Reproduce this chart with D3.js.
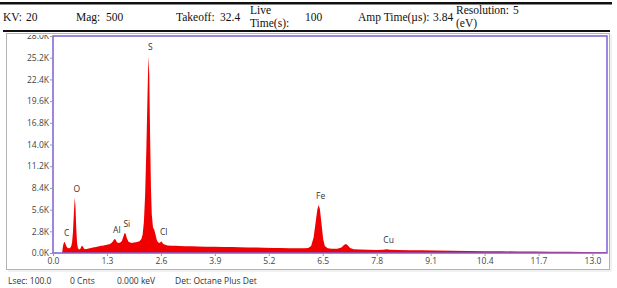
<!DOCTYPE html>
<html>
<head>
<meta charset="utf-8">
<title>EDS spectrum</title>
<script src="https://cdn.jsdelivr.net/npm/d3@7"></script>
<style>
  body { margin: 0; background: #fff; }
  svg { display: block; }
</style>
</head>
<body>
<svg id="chart" width="617" height="288"></svg>
<script>
// header fields (label, value) as printed above the plot
const headerLabels = ["KV:", "Mag:", "Takeoff:", "Live|Time(s):", "Amp Time(\u00b5s):", "Resolution:|(eV)"];
const headerValues = ["20", "500", "32.4", "100", "3.84", "5"];

// footer status line
const footerItems = ["Lsec: 100.0", "0 Cnts", "0.000 keV", "Det: Octane Plus Det"];

// axis ticks
const xTicks = [0.0, 1.3, 2.6, 3.9, 5.2, 6.5, 7.8, 9.1, 10.4, 11.7, 13.0];
const yTicks = [0, 2800, 5600, 8400, 11200, 14000, 16800, 19600, 22400, 25200, 28000];

// spectrum: energy (keV) and counts
const energy = [0.22, 0.24, 0.26, 0.28, 0.30, 0.32, 0.34, 0.36, 0.38, 0.40, 0.42, 0.44, 0.46, 0.48, 0.50, 0.52, 0.525, 0.54, 0.56, 0.58,
  0.60, 0.62, 0.64, 0.66, 0.68, 0.70, 0.72, 0.74, 0.77, 0.80, 0.84, 0.88, 0.92, 0.96, 1.00, 1.04, 1.08, 1.12, 1.16, 1.20,
  1.24, 1.28, 1.32, 1.36, 1.40, 1.44, 1.47, 1.49, 1.51, 1.54, 1.58, 1.62, 1.66, 1.70, 1.73, 1.75, 1.78, 1.82, 1.86, 1.90,
  1.95, 2.00, 2.05, 2.09, 2.13, 2.16, 2.19, 2.22, 2.25, 2.28, 2.30, 2.32, 2.34, 2.36, 2.38, 2.41, 2.44, 2.47, 2.50, 2.53,
  2.57, 2.60, 2.62, 2.65, 2.70, 2.76, 2.85, 2.95, 3.05, 3.20, 3.35, 3.50, 3.70, 3.90, 4.10, 4.30, 4.50, 4.70, 4.90, 5.10,
  5.30, 5.50, 5.70, 5.90, 6.05, 6.15, 6.22, 6.28, 6.33, 6.37, 6.40, 6.43, 6.47, 6.51, 6.55, 6.62, 6.72, 6.85, 6.95, 7.02,
  7.06, 7.10, 7.16, 7.25, 7.40, 7.60, 7.80, 7.95, 8.04, 8.12, 8.30, 8.60, 8.90, 9.20, 9.60, 10.0, 10.4, 10.8, 11.2, 11.6,
  12.0, 12.4, 12.8, 13.2, 13.35];
const counts = [0, 900, 1300, 1450, 1200, 900, 700, 650, 600, 620, 700, 900, 1400, 2600, 4800, 6800, 7100, 6200, 3200, 1300,
  650, 480, 450, 550, 800, 950, 850, 600, 480, 520, 560, 620, 640, 720, 750, 790, 840, 870, 930, 950,
  1010, 1040, 1110, 1140, 1250, 1500, 1750, 1800, 1700, 1400, 1300, 1350, 1550, 2200, 2600, 2500, 1900, 1450, 1350, 1300,
  1360, 1400, 1460, 1550, 1800, 2400, 4000, 7500, 13500, 21000, 25400, 23000, 15000, 8500, 5000, 3300, 3000, 2400, 1700, 1400,
  1300, 1450, 1500, 1200, 1050, 980, 950, 930, 900, 880, 860, 850, 820, 800, 780, 770, 740, 720, 700, 690,
  660, 640, 620, 600, 600, 650, 900, 2000, 4000, 5600, 6200, 5700, 3800, 1800, 900, 600, 560, 560, 700, 1050,
  1150, 1000, 650, 480, 440, 420, 400, 420, 480, 420, 380, 360, 340, 310, 280, 260, 240, 220, 200, 180,
  160, 150, 130, 110, 100];

// element markers: name, line energy (keV), peak counts
const elemNames = ["C", "O", "Al", "Si", "S", "Cl", "Fe", "Cu"];
const elemKeV = [0.28, 0.525, 1.49, 1.73, 2.30, 2.62, 6.40, 8.04];
const elemCounts = [1450, 7100, 1800, 2600, 25400, 1500, 6200, 480];

const svg = d3.select("#chart");
const margin = { left: 53, right: 10, top: 36, bottom: 35 };
const W = 617, H = 288;

const x = d3.scaleLinear().domain([0, 13.35]).range([margin.left, W - margin.right]);
const y = d3.scaleLinear().domain([0, 28000]).range([H - margin.bottom, margin.top]);

// header rules
svg.append("rect").attr("x", 0).attr("y", 2).attr("width", 612).attr("height", 2.5).attr("fill", "#111");
svg.append("rect").attr("x", 3).attr("y", 30).attr("width", 607).attr("height", 2).attr("fill", "#111");

// header text
const hx = [3, 76, 176, 250, 358, 456];
const vx = [26, 106, 220, 305, 433, 513];
const header = svg.append("g").attr("font-family", "Liberation Serif, Times New Roman, serif")
  .attr("font-size", 11.5).attr("fill", "#111");
headerLabels.forEach((lab, i) => {
  const parts = lab.split("|");
  if (parts.length === 1) {
    header.append("text").attr("x", hx[i]).attr("y", 21).text(lab);
  } else {
    header.append("text").attr("x", hx[i]).attr("y", 14).text(parts[0]);
    header.append("text").attr("x", hx[i]).attr("y", 27).text(parts[1]);
  }
});
headerValues.forEach((v, i) => {
  const yy = i === 5 ? 14 : 21;
  header.append("text").attr("x", vx[i]).attr("y", yy).text(v);
});

// outer gray frame
svg.append("rect").attr("x", 6.5).attr("y", 33.5).attr("width", 603).attr("height", 236)
  .attr("fill", "none").attr("stroke", "#b4b4b4").attr("stroke-width", 1);
svg.append("line").attr("x1", 611).attr("x2", 611).attr("y1", 35).attr("y2", 271)
  .attr("stroke", "#e2e2e2");
svg.append("line").attr("x1", 8).attr("x2", 611).attr("y1", 271).attr("y2", 271)
  .attr("stroke", "#e2e2e2");

// spectrum
const area = d3.area()
  .x((d, i) => x(energy[i]))
  .y0(y(0))
  .y1((d, i) => y(counts[i]));
svg.append("path")
  .datum(counts)
  .attr("fill", "#f00000")
  .attr("d", area);

// plot frame
svg.append("rect")
  .attr("x", x(0)).attr("y", y(28000))
  .attr("width", x(13.35) - x(0)).attr("height", y(0) - y(28000))
  .attr("fill", "none").attr("stroke", "#7d5fd6").attr("stroke-width", 1.5);

// clip for the top tick label cut by the header rule (local coords of the axis group)
svg.append("clipPath").attr("id", "yclip")
  .append("rect").attr("x", -60).attr("y", 35).attr("width", 60).attr("height", 240);

const yAxis = svg.append("g")
  .attr("transform", `translate(${x(0)},0)`)
  .attr("clip-path", "url(#yclip)")
  .call(d3.axisLeft(y).tickValues(yTicks).tickSize(3).tickPadding(1)
    .tickFormat(d => (d / 1000).toFixed(1) + "K"));
yAxis.select(".domain").remove();

const xAxis = svg.append("g")
  .attr("transform", `translate(0,${y(0)})`)
  .call(d3.axisBottom(x).tickValues(xTicks).tickSize(3).tickPadding(2)
    .tickFormat(d3.format(".1f")));
xAxis.select(".domain").remove();

[yAxis, xAxis].forEach(g => {
  g.selectAll(".tick line").attr("stroke", "#999");
  g.selectAll(".tick text").attr("fill", "#444")
    .attr("font-family", "Open Sans, sans-serif").attr("font-size", 8.5);
});

// element labels
svg.append("g")
  .attr("font-family", "Open Sans, sans-serif").attr("font-size", 8.5).attr("fill", "#333")
  .attr("text-anchor", "middle")
  .selectAll("text")
  .data(elemNames)
  .join("text")
  .attr("x", (d, i) => x(elemKeV[i]) + 2)
  .attr("y", (d, i) => y(elemCounts[i]) - 6)
  .text(d => d);

// footer
const fx = [8, 70, 117, 175];
svg.append("g")
  .attr("font-family", "Open Sans, sans-serif").attr("font-size", 8.5).attr("fill", "#333")
  .selectAll("text")
  .data(footerItems)
  .join("text")
  .attr("x", (d, i) => fx[i])
  .attr("y", 284)
  .text(d => d);
</script>
</body>
</html>
